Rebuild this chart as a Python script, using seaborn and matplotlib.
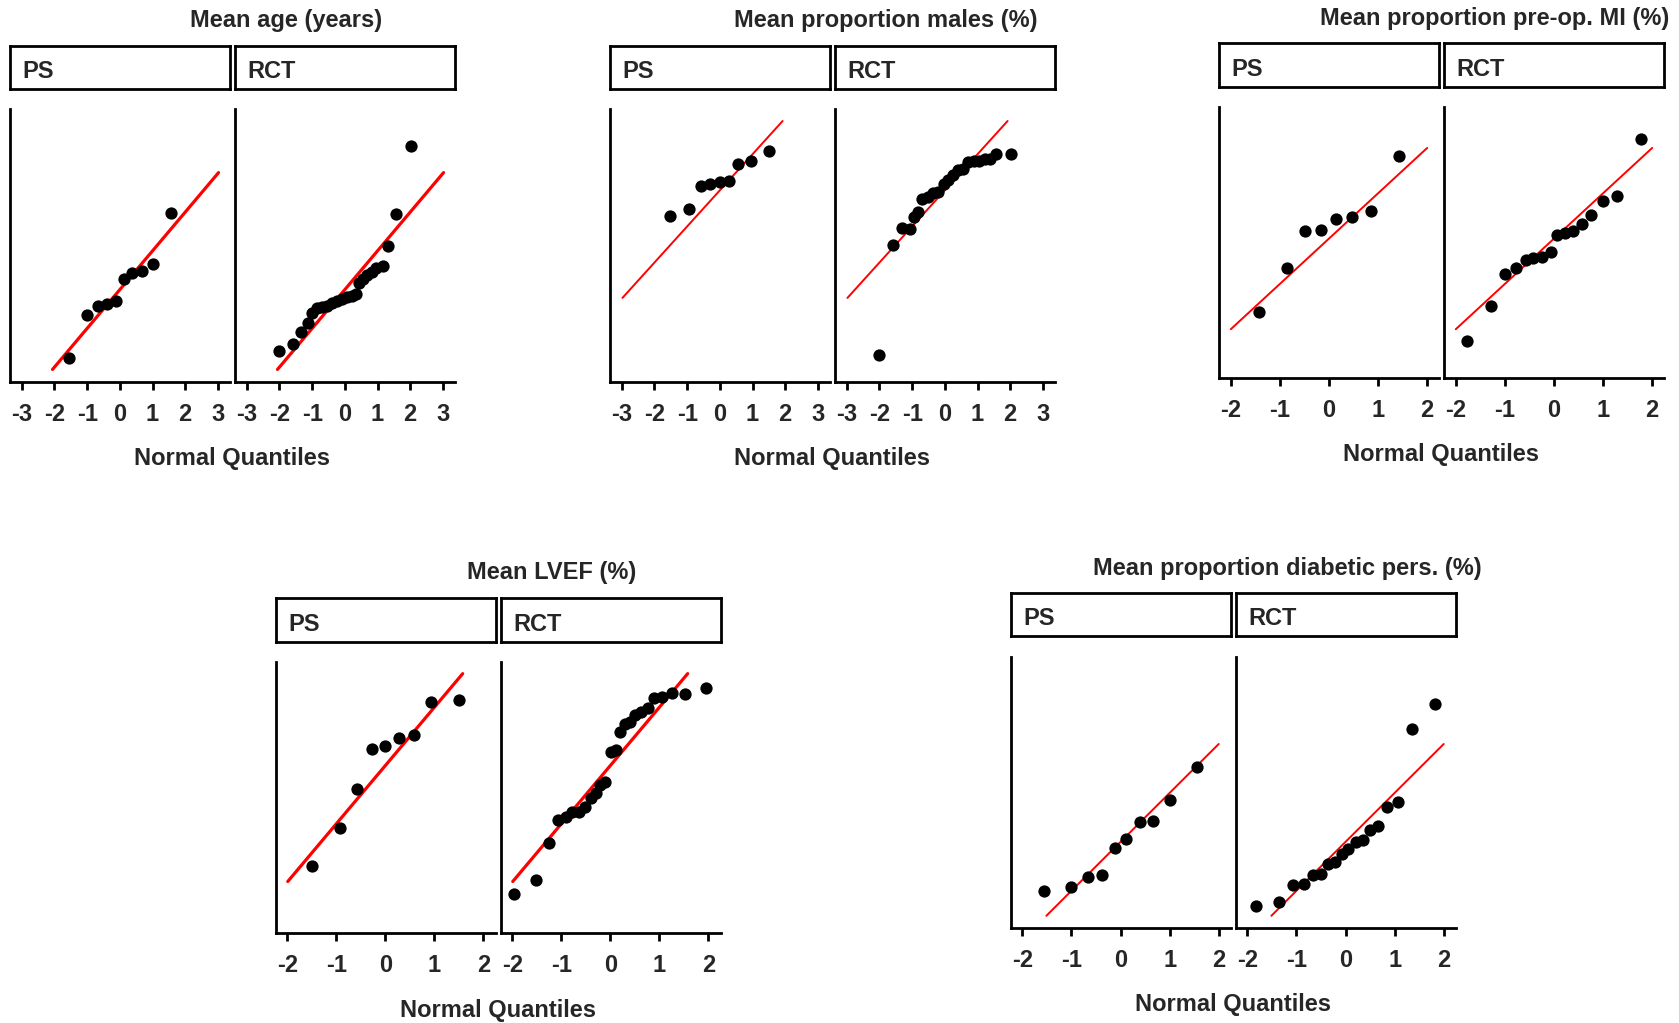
import numpy as np
import pandas as pd
import matplotlib
matplotlib.use("Agg")
import matplotlib.pyplot as plt
import seaborn as sns

# =========================
# DATA (y is on an arbitrary 0-100 scale, no y ticks shown)
# =========================

age_ps_q = [-1.55, -1.01, -0.67, -0.38, -0.11, 0.12, 0.38, 0.67, 1.00, 1.55]
age_ps_v = [8.8, 24.4, 27.8, 28.6, 29.5, 37.8, 40.1, 40.8, 43.2, 62.0]
age_rct_q = [-2.02, -1.59, -1.34, -1.14, -0.99, -0.86, -0.70, -0.55, -0.40, -0.24, -0.09, 0.06,
             0.21, 0.35, 0.42, 0.55, 0.69, 0.83, 0.96, 1.16, 1.32, 1.57, 2.03]
age_rct_v = [11.4, 13.8, 18.2, 21.7, 25.2, 27.0, 27.4, 27.8, 28.8, 29.7, 30.3, 31.0,
             31.6, 32.1, 36.4, 37.6, 39.2, 40.4, 41.6, 42.5, 49.9, 61.7, 86.6]
age_line_q = [-2.06, 3.02]
age_line_v = [4.6, 76.7]

males_ps_q = [-1.51, -0.94, -0.58, -0.29, 0.00, 0.29, 0.57, 0.94, 1.51]
males_ps_v = [60.9, 63.4, 71.9, 72.4, 73.3, 73.6, 79.9, 80.8, 84.7]
males_rct_q = [-2.02, -1.59, -1.32, -1.08, -0.94, -0.81, -0.70, -0.53, -0.37, -0.20, -0.04,
               0.11, 0.26, 0.39, 0.57, 0.72, 0.90, 1.06, 1.23, 1.37, 1.57, 2.03]
males_rct_v = [10.0, 50.2, 56.5, 56.0, 60.3, 62.4, 67.0, 67.9, 69.3, 69.7, 72.7,
               74.0, 75.8, 77.7, 77.9, 80.7, 81.1, 81.1, 81.6, 81.6, 83.5, 83.5]
males_line_q = [-2.98, 1.92]
males_line_v = [30.8, 95.6]

mi_ps_q = [-1.43, -0.86, -0.48, -0.16, 0.14, 0.47, 0.85, 1.43]
mi_ps_v = [24.2, 40.7, 54.4, 54.6, 58.7, 59.3, 61.6, 82.0]
mi_rct_q = [-1.78, -1.29, -0.99, -0.77, -0.58, -0.43, -0.24, -0.07,
            0.07, 0.22, 0.39, 0.56, 0.76, 0.99, 1.28, 1.77]
mi_rct_v = [13.5, 26.6, 38.3, 40.7, 43.4, 44.2, 44.7, 46.5,
            52.8, 53.4, 54.2, 56.8, 60.2, 65.2, 67.0, 88.1]
mi_line_q = [-2.0, 2.0]
mi_line_v = [18.0, 84.9]

lvef_ps_q = [-1.49, -0.93, -0.57, -0.28, 0.00, 0.28, 0.58, 0.93, 1.50]
lvef_ps_v = [24.8, 38.7, 53.0, 67.9, 69.1, 72.0, 73.0, 85.3, 86.0]
lvef_rct_q = [-1.97, -1.51, -1.25, -1.06, -0.90, -0.78, -0.64, -0.52, -0.40, -0.30, -0.20, -0.10,
              0.01, 0.11, 0.20, 0.30, 0.40, 0.50, 0.62, 0.76, 0.89, 1.06, 1.27, 1.52, 1.96]
lvef_rct_v = [14.5, 19.5, 33.3, 41.7, 42.9, 44.8, 44.8, 46.6, 49.7, 51.8, 54.6, 55.8,
              66.9, 67.5, 74.0, 77.1, 78.0, 80.4, 81.7, 82.9, 86.6, 87.2, 88.4, 88.2, 90.5]
lvef_line_q = [-1.99, 1.58]
lvef_line_v = [19.0, 95.7]

diab_ps_q = [-1.55, -1.00, -0.66, -0.37, -0.12, 0.12, 0.39, 0.66, 1.00, 1.56]
diab_ps_v = [13.7, 15.2, 18.8, 19.5, 29.4, 32.9, 39.0, 39.6, 47.2, 59.3]
diab_rct_q = [-1.83, -1.35, -1.06, -0.84, -0.67, -0.50, -0.35, -0.21, -0.07,
              0.06, 0.22, 0.35, 0.50, 0.67, 0.84, 1.06, 1.35, 1.83]
diab_rct_v = [8.0, 9.7, 15.7, 16.1, 19.4, 20.0, 23.6, 24.2, 27.4,
              29.2, 31.9, 32.6, 36.0, 37.8, 44.5, 46.5, 73.4, 82.6]
diab_line_q = [-1.51, 2.0]
diab_line_v = [4.5, 67.9]

titles = ["Mean age (years)", "Mean proportion males (%)", "Mean proportion pre-op. MI (%)",
          "Mean LVEF (%)", "Mean proportion diabetic pers. (%)"]
groups = ["PS", "RCT"]
xlabel = "Normal Quantiles"
ticks_wide = [-3, -2, -1, 0, 1, 2, 3]
ticks_narrow = [-2, -1, 0, 1, 2]

# =========================
# STYLE
# =========================

sns.set_style("ticks")
plt.rcParams["font.family"] = ["Liberation Sans", "DejaVu Sans"]
plt.rcParams["font.weight"] = "bold"
plt.rcParams["axes.unicode_minus"] = False

FS = 17
W, H = 1679, 1023
fig = plt.figure(figsize=(W / 100, H / 100), dpi=100)


def px_axes(left, top, width, height):
    return fig.add_axes([left / W, 1 - (top + height) / H, width / W, height / H])


# per block: data, title, panel left edges, axes top/bottom, strip top/bottom, xlim, ticks, line width
blocks = [
    dict(ps=(age_ps_q, age_ps_v), rct=(age_rct_q, age_rct_v), line=(age_line_q, age_line_v),
         title=titles[0], lefts=(10, 235), ax_y=(109, 382), strip_y=(46, 89),
         xlim=(-3.36, 3.37), ticks=ticks_wide, lw=2.3),
    dict(ps=(males_ps_q, males_ps_v), rct=(males_rct_q, males_rct_v), line=(males_line_q, males_line_v),
         title=titles[1], lefts=(610, 835), ax_y=(109, 382), strip_y=(46, 89),
         xlim=(-3.36, 3.37), ticks=ticks_wide, lw=1.4),
    dict(ps=(mi_ps_q, mi_ps_v), rct=(mi_rct_q, mi_rct_v), line=(mi_line_q, mi_line_v),
         title=titles[2], lefts=(1219, 1444), ax_y=(107, 378), strip_y=(43, 87),
         xlim=(-2.24, 2.24), ticks=ticks_narrow, lw=1.4),
    dict(ps=(lvef_ps_q, lvef_ps_v), rct=(lvef_rct_q, lvef_rct_v), line=(lvef_line_q, lvef_line_v),
         title=titles[3], lefts=(276, 501), ax_y=(662, 933), strip_y=(598, 642),
         xlim=(-2.23, 2.26), ticks=ticks_narrow, lw=2.3),
    dict(ps=(diab_ps_q, diab_ps_v), rct=(diab_rct_q, diab_rct_v), line=(diab_line_q, diab_line_v),
         title=titles[4], lefts=(1011, 1236), ax_y=(657, 928), strip_y=(593, 636),
         xlim=(-2.23, 2.25), ticks=ticks_narrow, lw=1.4),
]

panel_w = 220

for b in blocks:
    line_df = pd.DataFrame({"q": b["line"][0], "v": b["line"][1]})
    for grp, left in zip(groups, b["lefts"]):
        q, v = b["ps"] if grp == "PS" else b["rct"]
        df = pd.DataFrame({"q": q, "v": v})

        # strip header box
        sax = px_axes(left, b["strip_y"][0], panel_w, b["strip_y"][1] - b["strip_y"][0])
        sax.set_xticks([])
        sax.set_yticks([])
        for sp in sax.spines.values():
            sp.set_visible(True)
            sp.set_linewidth(2)
            sp.set_color("black")
        sax.text(0.055, 0.4, grp, transform=sax.transAxes, fontsize=FS,
                 fontweight="bold", va="center", ha="left")

        # qq panel
        ax = px_axes(left, b["ax_y"][0], panel_w, b["ax_y"][1] - b["ax_y"][0])
        sns.lineplot(data=line_df, x="q", y="v", ax=ax, color="#ff0000",
                     linewidth=b["lw"], zorder=2)
        sns.scatterplot(data=df, x="q", y="v", ax=ax, color="black", s=78,
                        linewidth=0, zorder=3)
        ax.set_xlim(*b["xlim"])
        ax.set_ylim(0, 100)
        ax.set_xticks(b["ticks"])
        ax.set_xticklabels([str(t) for t in b["ticks"]], fontsize=FS, fontweight="bold")
        ax.set_yticks([])
        ax.set_xlabel("")
        ax.set_ylabel("")
        ax.tick_params(axis="x", length=6, width=2, pad=9, color="black")
        sns.despine(ax=ax)
        ax.spines["left"].set_linewidth(2)
        ax.spines["bottom"].set_linewidth(2)
        ax.spines["left"].set_color("black")
        ax.spines["bottom"].set_color("black")

    gl = b["lefts"][0]
    fig.text((gl + 276) / W, 1 - (b["strip_y"][0] - 25) / H, b["title"],
             fontsize=FS, fontweight="bold", ha="center", va="center")
    fig.text((gl + 222) / W, 1 - (b["ax_y"][1] + 77) / H, xlabel,
             fontsize=FS, fontweight="bold", ha="center", va="center")

fig.savefig("out.png", dpi=100)
